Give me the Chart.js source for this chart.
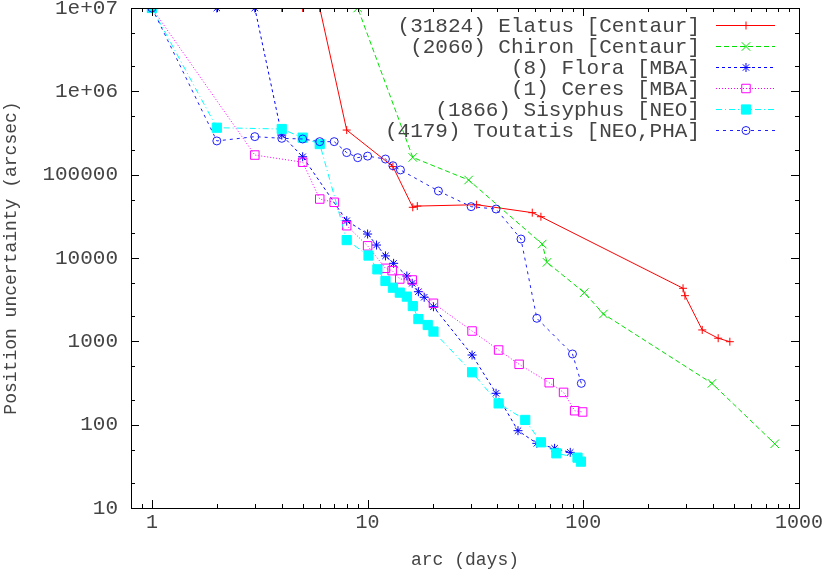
<!DOCTYPE html>
<html>
<head>
<meta charset="utf-8">
<script src="https://cdn.jsdelivr.net/npm/chart.js@4/dist/chart.umd.min.js"></script>
<style>
  html, body { margin: 0; padding: 0; background: #fff; }
</style>
</head>
<body>
<canvas id="arcChart" width="830" height="571"></canvas>
<script>
// series names, as in the key
const names = [
  "(31824) Elatus [Centaur]",
  "(2060) Chiron [Centaur]",
  "(8) Flora [MBA]",
  "(1) Ceres [MBA]",
  "(1866) Sisyphus [NEO]",
  "(4179) Toutatis [NEO,PHA]"
];

// arc length (days) and position uncertainty (arcsec)
const elatusX = [1, 4, 5, 6, 8, 13.1, 16.2, 17, 32, 58, 63.6, 290, 296, 356, 422, 478];
const elatusY = [1e7, 1e7, 1e7, 1e7, 343000, 125000, 40600, 42000, 43600, 35000, 31300, 4330, 3530, 1370, 1090, 990];

const chironX = [1, 9, 16.2, 29.4, 64.5, 67.9, 101, 124, 395, 772];
const chironY = [1e7, 1e7, 161000, 86300, 14700, 8870, 3840, 2130, 313, 59];

const floraX = [1, 2, 3, 4, 5, 8, 10, 11, 12.1, 13.2, 15.2, 16.1, 17.2, 18.3, 20.2, 30.5, 39.4, 49.8, 60.9, 73.6, 87];
const floraY = [1e7, 1e7, 1e7, 299000, 164000, 28000, 19400, 14300, 10600, 8630, 6080, 4970, 3940, 3380, 2600, 685, 238, 84.7, 59.7, 52, 46.5];

const ceresX = [1, 3, 5, 6, 7, 8, 10, 12.1, 13, 14.1, 16.1, 20.2, 30.5, 40.5, 50.4, 69.5, 81, 91.2, 99.3];
const ceresY = [1e7, 172000, 141000, 51000, 46600, 24400, 14000, 7520, 7050, 5600, 5450, 2860, 1330, 787, 530, 319, 244, 147, 142];

const sisyphusX = [1, 2, 4, 5, 6, 8, 10.1, 11.1, 12.1, 13.1, 14.1, 15.2, 16.2, 17.2, 19, 20.2, 30.5, 40.5, 53.8, 63.6, 75, 94, 97.5];
const sisyphusY = [1e7, 366000, 353000, 278000, 233000, 16400, 10700, 7310, 5300, 4400, 3840, 3440, 2650, 1850, 1570, 1310, 425, 180, 114, 61.4, 45.3, 40.2, 36];

const toutatisX = [1, 2, 3, 4, 5, 6, 7, 8, 9, 10, 12.1, 13.1, 14.2, 21.3, 30.2, 39.4, 51.4, 60.9, 89.1, 97.9];
const toutatisY = [1e7, 254000, 286000, 273000, 268000, 249000, 249000, 184000, 160000, 167000, 154000, 128000, 114000, 63700, 41300, 38700, 16900, 1890, 705, 313];

const xTicks = [1, 10, 100, 1000];
const yTicks = [10, 100, 1000, 10000, 100000, 1e6, 1e7];

function pairs(xs, ys) {
  return xs.map((x, i) => ({ x: x, y: ys[i] }));
}

const FONT = "'Liberation Mono', 'DejaVu Sans Mono', monospace";
const TEXT = '#444';

const styles = [
  { color: '#ff0000', dash: [], point: 'cross', r: 4, fill: 'rgba(0,0,0,0)' },
  { color: '#00e000', dash: [5, 3], point: 'crossRot', r: 6, fill: 'rgba(0,0,0,0)' },
  { color: '#0000ff', dash: [3, 3], point: 'star', r: 4.5, fill: 'rgba(0,0,0,0)' },
  { color: '#ff00ff', dash: [1, 2], point: 'rect', r: 6, fill: 'rgba(0,0,0,0)' },
  { color: '#00ffff', dash: [6, 3, 1, 3], point: 'rect', r: 6.5, fill: '#00ffff' },
  { color: '#2020ff', dash: [3, 4], point: 'circle', r: 4, fill: 'rgba(0,0,0,0)' }
];

const allX = [elatusX, chironX, floraX, ceresX, sisyphusX, toutatisX];
const allY = [elatusY, chironY, floraY, ceresY, sisyphusY, toutatisY];

const datasets = names.map((name, i) => ({
  label: name,
  data: pairs(allX[i], allY[i]),
  borderColor: styles[i].color,
  borderWidth: 1,
  borderDash: styles[i].dash,
  pointStyle: styles[i].point,
  pointRadius: styles[i].r,
  pointBorderColor: styles[i].color,
  pointBackgroundColor: styles[i].fill,
  pointBorderWidth: 1,
  fill: false,
  tension: 0,
  order: names.length - i
}));

// frame with inward ticks, drawn over the curves like gnuplot's border
const framePlugin = {
  id: 'frame',
  afterDatasetsDraw(chart) {
    const ctx = chart.ctx;
    const a = chart.chartArea;
    const xs = chart.scales.x, ys = chart.scales.y;
    ctx.save();
    ctx.strokeStyle = '#000';
    ctx.lineWidth = 1;
    ctx.setLineDash([]);
    ctx.strokeRect(Math.round(a.left) + 0.5, Math.round(a.top) + 0.5,
      Math.round(a.right - a.left), Math.round(a.bottom - a.top));
    ctx.beginPath();
    for (let d = 0.1; d <= 1000; d *= 10) {
      for (let m = 1; m <= 9; m++) {
        const v = d * m;
        if (v < xs.min || v > xs.max) continue;
        const len = m === 1 ? 8 : 4;
        const px = Math.round(xs.getPixelForValue(v)) + 0.5;
        ctx.moveTo(px, a.bottom); ctx.lineTo(px, a.bottom - len);
        ctx.moveTo(px, a.top); ctx.lineTo(px, a.top + len);
      }
    }
    for (let d = 10; d <= 1e7; d *= 10) {
      [1, 2, 5].forEach(m => {
        const v = d * m;
        if (v < ys.min || v > ys.max) return;
        const len = m === 1 ? 8 : 4;
        const py = Math.round(ys.getPixelForValue(v)) + 0.5;
        ctx.moveTo(a.left, py); ctx.lineTo(a.left + len, py);
        ctx.moveTo(a.right, py); ctx.lineTo(a.right - len, py);
      });
    }
    ctx.stroke();
    ctx.restore();
  }
};

// key in the top right: text right-aligned, sample line and marker after it
const keyPlugin = {
  id: 'key',
  afterDraw(chart) {
    const ctx = chart.ctx;
    ctx.save();
    ctx.font = '21px ' + FONT;
    ctx.textAlign = 'right';
    ctx.textBaseline = 'middle';
    names.forEach((name, i) => {
      const y = 25 + i * 21;
      ctx.fillStyle = TEXT;
      ctx.fillText(name, 700, y + 1);
      const s = styles[i];
      ctx.strokeStyle = s.color;
      ctx.lineWidth = 1;
      ctx.setLineDash(s.dash);
      ctx.beginPath();
      ctx.moveTo(716, y + 0.5);
      ctx.lineTo(775, y + 0.5);
      ctx.stroke();
      ctx.setLineDash([]);
      ctx.fillStyle = s.fill;
      Chart.helpers.drawPoint(ctx, { pointStyle: s.point, radius: s.r, rotation: 0, borderWidth: 1 }, 746, y + 0.5);
    });
    ctx.restore();
  }
};

new Chart(document.getElementById('arcChart'), {
  type: 'line',
  data: { datasets: datasets },
  options: {
    responsive: false,
    animation: false,
    events: [],
    layout: { padding: { top: 8, right: 31, left: 0, bottom: 0 } },
    plugins: { legend: { display: false }, tooltip: { enabled: false } },
    scales: {
      x: {
        type: 'logarithmic',
        min: 0.8,
        max: 1000,
        afterBuildTicks: s => { s.ticks = xTicks.map(v => ({ value: v })); },
        afterFit: s => { s.height = 63; s.paddingLeft = 0; s.paddingRight = 0; },
        grid: { display: false, drawTicks: false },
        border: { display: false },
        ticks: {
          autoSkip: false, maxRotation: 0, padding: 3,
          color: TEXT, font: { family: FONT, size: 20 },
          callback: v => String(v)
        },
        title: {
          display: true, text: 'arc (days)', color: TEXT,
          font: { family: FONT, size: 18 }, padding: { top: 0, bottom: 0 }
        }
      },
      y: {
        type: 'logarithmic',
        min: 10,
        max: 1e7,
        afterBuildTicks: s => { s.ticks = yTicks.map(v => ({ value: v })); },
        afterFit: s => { s.width = 131; s.paddingTop = 0; s.paddingBottom = 0; },
        grid: { display: false, drawTicks: false },
        border: { display: false },
        ticks: {
          autoSkip: false, padding: 13,
          color: TEXT, font: { family: FONT, size: 21 },
          callback: v => v >= 1e6 ? '1e+0' + Math.round(Math.log10(v)) : String(v)
        },
        title: {
          display: true, text: 'Position uncertainty (arcsec)', color: TEXT,
          font: { family: FONT, size: 18 }, padding: { top: 0, bottom: 0 }
        }
      }
    }
  },
  plugins: [framePlugin, keyPlugin]
});
</script>
</body>
</html>
